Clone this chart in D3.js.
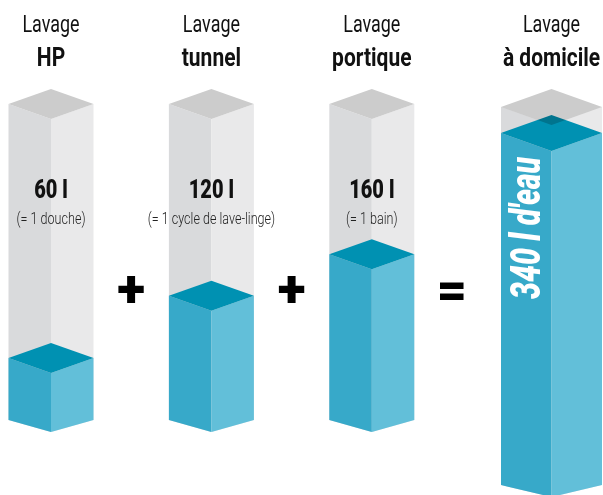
<!DOCTYPE html>
<html>
<head>
<meta charset="utf-8">
<script src="https://cdn.jsdelivr.net/npm/d3@7"></script>
<style>
  html, body { margin: 0; padding: 0; background: #fff; }
  svg { display: block; }
  text { font-family: Roboto, "Liberation Sans", sans-serif; }
</style>
</head>
<body>
<div id="chart"></div>
<script>
//---------------------------------//
// Data                            //
//---------------------------------//

var categories = ['HP', 'tunnel', 'portique', 'à domicile'];
var litres = [60, 120, 160, 340];
var equivalents = ['(= 1 douche)', '(= 1 cycle de lave-linge)', '(= 1 bain)', ''];
var operators = ['+', '+', '='];
var totalLabel = "340 l d'eau";
var prefix = 'Lavage';

//---------------------------------//
// Chart Object                    //
//---------------------------------//

window.Vis = window.Vis || {};

Vis.init = function() {
    Vis.setup.initConsts();
    Vis.setup.initGraph();
    Vis.core.draw();
};

Vis.setup = {
    initConsts: function() {
        Vis.width = 603;
        Vis.height = 495;

        Vis.base = 420;             //Baseline of the three small columns
        Vis.baseTotal = 485;        //Baseline of the total column
        Vis.colTop = 104;           //Top of grey "empty" column
        Vis.colTopTotal = 107;

        Vis.halfW = 42.5;           //Half width of a column
        Vis.halfWTotal = 50.5;
        Vis.dyTop = 15;             //Isometric depth of the top faces
        Vis.dyTopTotal = 18;
        Vis.dyBottom = 12;

        Vis.k = 0.8;                //Horizontal squeeze to fake a condensed face

        Vis.colors = {
            greyLeft: '#d9dadc', greyRight: '#e9e9ea', greyTop: '#cccccc',
            blueLeft: '#37a9c9', blueRight: '#62bfd9', blueTop: '#0091b2'
        };
    },

    initGraph: function() {
        Vis.svg = d3.select('#chart').append('svg')
                    .attr('width', Vis.width)
                    .attr('height', Vis.height);

        // slots: column, operator, column, operator, column, operator
        Vis.slots = [];
        categories.slice(0, 3).forEach(function(c, i) {
            Vis.slots.push(c);
            Vis.slots.push('op' + i);
        });
        Vis.x = d3.scalePoint().domain(Vis.slots).range([51, 452]);
        Vis.xTotal = Vis.width - 1 - Vis.halfWTotal;

        Vis.y = d3.scaleLinear().domain([0, 340]).range([0, 352]);  //litres -> pixel height
    }
};

Vis.helpers = {
    label: function(g, cx, y, str, size, weight, fill, k) {
        return g.append('text')
                .attr('transform', 'translate(' + cx + ',' + y + ') scale(' + (k || Vis.k) + ',1)')
                .attr('text-anchor', 'middle')
                .attr('font-size', size)
                .attr('font-weight', weight)
                .attr('fill', fill || '#111')
                .text(str);
    },

    poly: function(g, pts, fill) {
        return g.append('polygon')
                .attr('points', pts.map(function(p) { return p.join(','); }).join(' '))
                .attr('fill', fill);
    },

    column: function(g, cx, hw, base, top, valueTop, dyT, dyB, blendTop) {
        var c = Vis.colors, P = Vis.helpers.poly;
        // grey empty column
        P(g, [[cx - hw, top], [cx, top + dyT], [cx, base + dyB], [cx - hw, base]], c.greyLeft);
        P(g, [[cx + hw, top], [cx, top + dyT], [cx, base + dyB], [cx + hw, base]], c.greyRight);
        if (!blendTop) P(g, [[cx, top - dyT], [cx + hw, top], [cx, top + dyT], [cx - hw, top]], c.greyTop);
        // water
        P(g, [[cx - hw, valueTop], [cx, valueTop + dyT], [cx, base + dyB], [cx - hw, base]], c.blueLeft);
        P(g, [[cx + hw, valueTop], [cx, valueTop + dyT], [cx, base + dyB], [cx + hw, base]], c.blueRight);
        P(g, [[cx, valueTop - dyT], [cx + hw, valueTop], [cx, valueTop + dyT], [cx - hw, valueTop]], c.blueTop);
        if (blendTop) {
            P(g, [[cx, top - dyT], [cx + hw, top], [cx, top + dyT], [cx - hw, top]], c.greyTop)
                .style('mix-blend-mode', 'multiply');
        }
    }
};

Vis.core = {
    draw: function() {
        var g = Vis.svg.append('g');
        var H = Vis.helpers;

        categories.forEach(function(cat, i) {
            var isTotal = i === categories.length - 1;
            var cx = isTotal ? Vis.xTotal : Vis.x(cat);
            var base = isTotal ? Vis.baseTotal : Vis.base;
            var h = Vis.y(litres[i]);

            H.column(g, cx,
                     isTotal ? Vis.halfWTotal : Vis.halfW,
                     base,
                     isTotal ? Vis.colTopTotal : Vis.colTop,
                     base - h,
                     isTotal ? Vis.dyTopTotal : Vis.dyTop,
                     Vis.dyBottom,
                     isTotal);

            // headings
            H.label(g, cx, 32, prefix, 23, 400, '#111', 0.78);
            H.label(g, cx, 66, cat, 25, 700, '#111', 0.84);

            if (!isTotal) {
                H.label(g, cx, 198, litres[i] + ' l', 25, 900);
                H.label(g, cx, 224, equivalents[i], 17, 300, '#222', 0.74);
            } else {
                // rotated total on the left face
                g.append('text')
                 .attr('transform', 'translate(' + (cx - Vis.halfWTotal / 2 + 14) + ',228) rotate(-90) scale(0.72,1)')
                 .attr('text-anchor', 'middle')
                 .attr('font-size', 42)
                 .attr('font-weight', 900)
                 .attr('font-style', 'italic')
                 .attr('fill', '#fff')
                 .text(totalLabel);
            }
        });

        operators.forEach(function(op, i) {
            H.label(g, Vis.x('op' + i), 307, op, 52, 900, '#000', 1);
        });
    }
};

document.addEventListener('DOMContentLoaded', Vis.init);
</script>
</body>
</html>
